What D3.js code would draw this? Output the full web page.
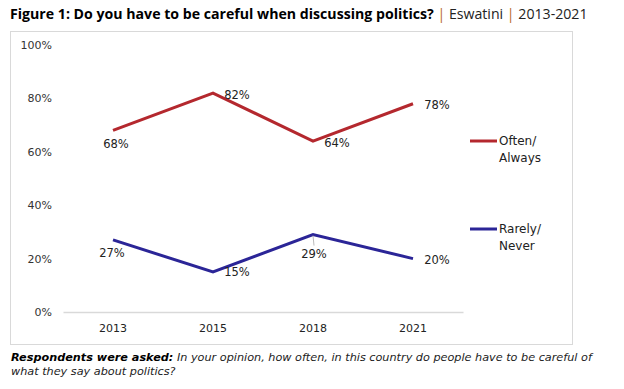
<!DOCTYPE html>
<html><head><meta charset="utf-8">
<script src="https://cdn.jsdelivr.net/npm/d3@7/dist/d3.min.js"></script>
<style>
body{margin:0;background:#fff;}
text{font-family:"DejaVu Sans",sans-serif;}
</style></head>
<body><svg id="c" width="624" height="389"></svg>
<script>
const years = ["2013","2015","2018","2021"];
const oftenAlways = [68,82,64,78];
const rarelyNever = [27,15,29,20];
const yTicks = [0,20,40,60,80,100];
const seriesNames = ["Often/ Always","Rarely/ Never"];

const svg = d3.select("#c");

function fitWidth(sel, target){
  let fs = +sel.attr("font-size");
  for(let k=0;k<3;k++){
    const w = sel.node().getComputedTextLength();
    fs = fs*target/w;
    sel.attr("font-size",fs);
  }
}

// title
const t = svg.append("text").attr("x",10).attr("y",19).attr("font-size",13).style("font-family","'Open Sans', sans-serif");
t.append("tspan").attr("font-weight","bold").attr("fill","#000").text("Figure 1: Do you have to be careful when discussing politics?");
t.append("tspan").attr("fill","#b8681f").text(" | ");
t.append("tspan").attr("fill","#222").text("Eswatini");
t.append("tspan").attr("fill","#b8681f").text(" | ");
t.append("tspan").attr("fill","#222").text("2013-2021");
fitWidth(t,578);

// frame
svg.append("rect").attr("x",10.5).attr("y",31.5).attr("width",562).attr("height",313)
  .attr("fill","none").attr("stroke","#d9d9d9").attr("stroke-width",1);

const x = d3.scaleBand().domain(years).range([63,463]);
const y = d3.scaleLinear().domain([0,100]).range([312,45]);

// y axis labels
const yAxis = d3.axisLeft(y).tickValues(yTicks).tickFormat(d=>d+"%").tickSize(0).tickPadding(0);
const ga = svg.append("g").attr("transform","translate(52,0)").call(yAxis);
ga.select(".domain").remove();
ga.selectAll("text").attr("font-size",11).attr("fill","#333");

// x axis
const xAxis = d3.axisBottom(x).tickSize(0).tickPadding(12);
const gx = svg.append("g").attr("transform","translate(0,312)").call(xAxis);
gx.select(".domain").attr("stroke","#d9d9d9").attr("stroke-width",1.5);
gx.selectAll("text").attr("font-size",11).attr("fill","#222");

const cx = d=>x(d)+x.bandwidth()/2;
const line = d3.line().x((d,i)=>cx(years[i])).y(d=>y(d));

const series = [
  {vals:oftenAlways,color:"#b4282e",
   lab:[[3,13.5],[24,2],[24,2],[24,1.5]], legY:141},
  {vals:rarelyNever,color:"#2b2597",
   lab:[[-1,13],[24,0],[1,19.5],[24,1.5]], legY:229}
];

series.forEach((s,si)=>{
  svg.append("path").datum(s.vals).attr("d",line).attr("fill","none")
    .attr("stroke",s.color).attr("stroke-width",3).attr("stroke-linejoin","miter");
});

// leader line for 29%
svg.append("line").attr("x1",cx("2018")).attr("y1",y(rarelyNever[2])+1)
  .attr("x2",cx("2018")+1).attr("y2",y(rarelyNever[2])+11).attr("stroke","#aaa").attr("stroke-width",0.8);

series.forEach((s,si)=>{
  svg.append("g").selectAll("text").data(s.vals).join("text")
    .attr("x",(d,i)=>cx(years[i])+s.lab[i][0])
    .attr("y",(d,i)=>y(d)+s.lab[i][1])
    .attr("dy","0.35em").attr("text-anchor","middle")
    .attr("font-size",11.5).attr("fill","#222").text(d=>d+"%");
  // legend
  const lg = svg.append("g");
  lg.append("line").attr("x1",470).attr("x2",497).attr("y1",s.legY).attr("y2",s.legY)
    .attr("stroke",s.color).attr("stroke-width",3);
  const parts = seriesNames[si].split(" ");
  lg.selectAll("text").data(parts).join("text")
    .attr("x",499).attr("y",(d,i)=>s.legY+i*16.5).attr("dy","0.35em")
    .attr("font-size",12).attr("fill","#222").text(d=>d);
});

// footer
const f1 = svg.append("text").attr("x",11).attr("y",361).attr("font-size",10.5).attr("font-style","italic").attr("fill","#222");
f1.append("tspan").attr("font-weight","bold").attr("fill","#000").text("Respondents were asked:");
f1.append("tspan").text(" In your opinion, how often, in this country do people have to be careful of");
fitWidth(f1,581);
svg.append("text").attr("x",11).attr("y",375).attr("font-size",f1.attr("font-size")).attr("font-style","italic").attr("fill","#222")
  .text("what they say about politics?");
</script></body></html>
